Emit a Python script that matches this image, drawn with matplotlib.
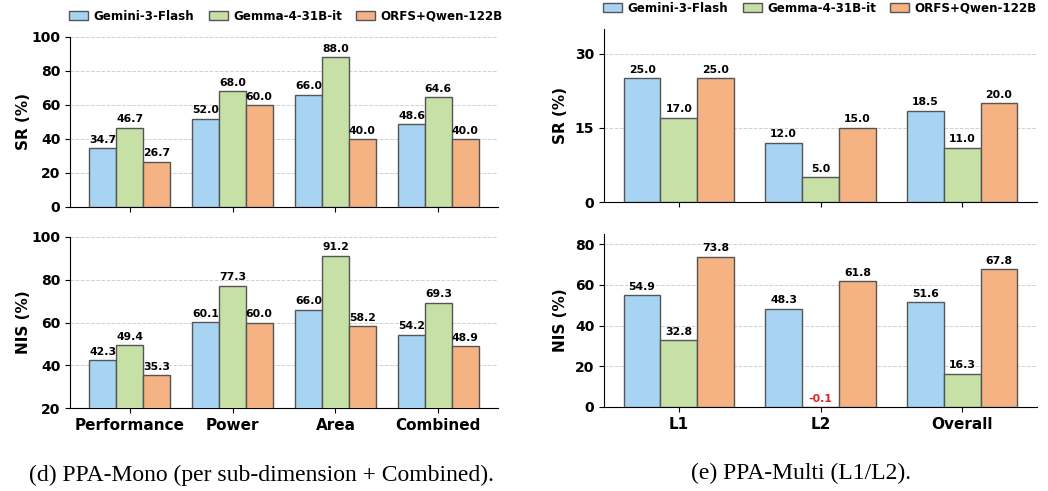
import matplotlib
matplotlib.use("Agg")
import matplotlib.pyplot as plt
import numpy as np

models = ["Gemini-3-Flash", "Gemma-4-31B-it", "ORFS+Qwen-122B"]
colors = ["#a6d4f2", "#c6e0a6", "#f5b383"]

mono_cats = ["Performance", "Power", "Area", "Combined"]
mono_sr = [[34.7, 52.0, 66.0, 48.6],
           [46.7, 68.0, 88.0, 64.6],
           [26.7, 60.0, 40.0, 40.0]]
mono_nis = [[42.3, 60.1, 66.0, 54.2],
            [49.4, 77.3, 91.2, 69.3],
            [35.3, 60.0, 58.2, 48.9]]

multi_cats = ["L1", "L2", "Overall"]
multi_sr = [[25.0, 12.0, 18.5],
            [17.0, 5.0, 11.0],
            [25.0, 15.0, 20.0]]
multi_nis = [[54.9, 48.3, 51.6],
             [32.8, -0.1, 16.3],
             [73.8, 61.8, 67.8]]

W, H = 1048, 491
fig = plt.figure(figsize=(W / 100, H / 100), dpi=100)


def px_axes(x0, x1, ytop, ybot):
    return fig.add_axes([x0 / W, 1 - ybot / H, (x1 - x0) / W, (ybot - ytop) / H])


def draw(ax, cats, data, ylim, yticks, ylabel, show_x):
    x = np.arange(len(cats))
    w = 0.26
    handles = []
    for i, (vals, c) in enumerate(zip(data, colors)):
        bars = ax.bar(x + (i - 1) * w, vals, w, color=c, edgecolor="#555555",
                      linewidth=1.0, label=models[i], zorder=3)
        handles.append(bars)
        for xi, v in zip(x + (i - 1) * w, vals):
            col = "#d62728" if v < 0 else "black"
            ax.annotate(f"{v:.1f}", (xi, max(v, ylim[0])), xytext=(0, 2.5),
                        textcoords="offset points", ha="center", va="bottom",
                        fontsize=7.8, fontweight="bold", color=col, zorder=4)
    ax.set_ylim(*ylim)
    ax.set_yticks(yticks)
    ax.set_xticks(x)
    if show_x:
        ax.set_xticklabels(cats, fontsize=11, fontweight="bold")
    else:
        ax.set_xticklabels([])
    ax.set_ylabel(ylabel, fontsize=11, fontweight="bold")
    for lab in ax.get_yticklabels():
        lab.set_fontweight("bold")
        lab.set_fontsize(10)
    ax.spines["top"].set_visible(False)
    ax.spines["right"].set_visible(False)
    ax.yaxis.grid(True, linestyle="--", color="#d0d0d0", linewidth=0.7, zorder=0)
    ax.set_axisbelow(True)
    return handles


ax1 = px_axes(70, 498, 37, 207)
h = draw(ax1, mono_cats, mono_sr, (0, 100), [0, 20, 40, 60, 80, 100], "SR (%)", False)
ax2 = px_axes(70, 498, 237, 408)
draw(ax2, mono_cats, mono_nis, (20, 100), [20, 40, 60, 80, 100], "NIS (%)", True)
ax3 = px_axes(604, 1037, 29, 202)
draw(ax3, multi_cats, multi_sr, (0, 35), [0, 15, 30], "SR (%)", False)
ax4 = px_axes(604, 1037, 234, 407)
draw(ax4, multi_cats, multi_nis, (0, 85), [0, 20, 40, 60, 80], "NIS (%)", True)

for ax in (ax1, ax2, ax3, ax4):
    ax.yaxis.set_label_coords(-0.09 if ax in (ax1, ax2) else -0.082, 0.5)

leg_kw = dict(ncol=3, frameon=False, prop={"weight": "bold", "size": 8.6},
              handlelength=1.6, handleheight=0.8, columnspacing=1.2,
              handletextpad=0.45, borderaxespad=0, borderpad=0)
fig.legend(h, models, loc="center", bbox_to_anchor=(286 / W, 1 - 16 / H), **leg_kw)
fig.legend(h, models, loc="center", bbox_to_anchor=(820 / W, 1 - 8 / H), **leg_kw)

fig.text(261 / W, 1 - 475 / H, "(d) PPA-Mono (per sub-dimension + Combined).",
         ha="center", va="center", fontsize=17, family="Liberation Serif")
fig.text(801 / W, 1 - 473 / H, "(e) PPA-Multi (L1/L2).",
         ha="center", va="center", fontsize=17, family="Liberation Serif")

fig.savefig("out.png", dpi=100)
